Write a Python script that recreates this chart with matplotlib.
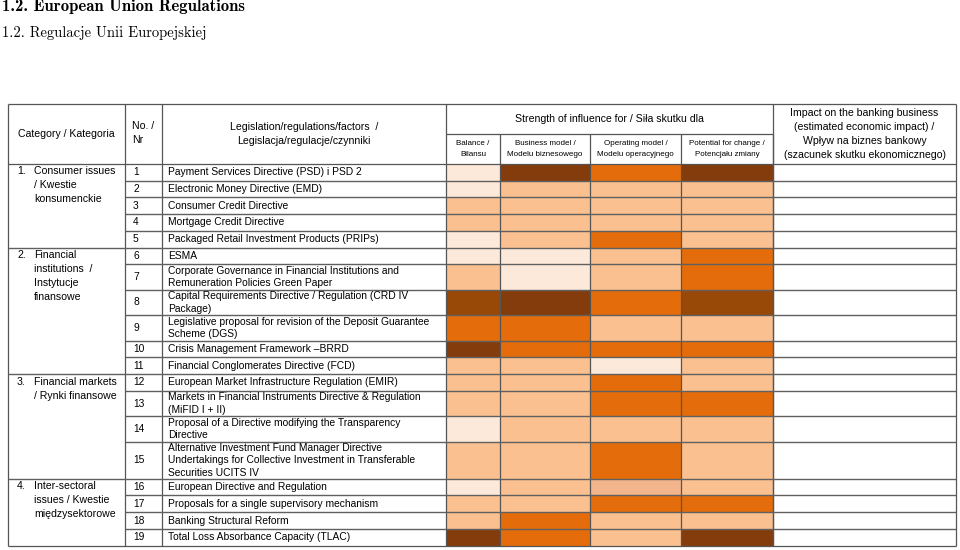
import numpy as np
import matplotlib.pyplot as plt
from matplotlib.colors import ListedColormap, BoundaryNorm

# --- data -------------------------------------------------------------
categories = [
    ("1.", "Consumer issues\n/ Kwestie\nkonsumenckie"),
    ("2.", "Financial\ninstitutions  /\nInstytucje\nfinansowe"),
    ("3.", "Financial markets\n/ Rynki finansowe"),
    ("4.", "Inter-sectoral\nissues / Kwestie\nmiędzysektorowe"),
]
category_rows = [5, 6, 4, 4]

numbers = [str(i) for i in range(1, 20)]
laws = [
    "Payment Services Directive (PSD) i PSD 2",
    "Electronic Money Directive (EMD)",
    "Consumer Credit Directive",
    "Mortgage Credit Directive",
    "Packaged Retail Investment Products (PRIPs)",
    "ESMA",
    "Corporate Governance in Financial Institutions and\nRemuneration Policies Green Paper",
    "Capital Requirements Directive / Regulation (CRD IV\nPackage)",
    "Legislative proposal for revision of the Deposit Guarantee\nScheme (DGS)",
    "Crisis Management Framework \u2013BRRD",
    "Financial Conglomerates Directive (FCD)",
    "European Market Infrastructure Regulation (EMIR)",
    "Markets in Financial Instruments Directive & Regulation\n(MiFID I + II)",
    "Proposal of a Directive modifying the Transparency\nDirective",
    "Alternative Investment Fund Manager Directive\nUndertakings for Collective Investment in Transferable\nSecurities UCITS IV",
    "European Directive and Regulation",
    "Proposals for a single supervisory mechanism",
    "Banking Structural Reform",
    "Total Loss Absorbance Capacity (TLAC)",
]

strength_cols = ["Balance /\nBilansu", "Business model /\nModelu biznesowego",
                 "Operating model /\nModelu operacyjnego",
                 "Potential for change /\nPotencjału zmiany"]

# strength level per row: balance, business model, operating model, potential
balance   = [1, 1, 2, 2, 1, 1, 2, 5, 4, 6, 2, 2, 2, 1, 2, 1, 2, 2, 6]
business  = [6, 2, 2, 2, 2, 1, 1, 6, 4, 4, 2, 2, 2, 2, 2, 2, 2, 4, 4]
operating = [4, 2, 2, 2, 4, 2, 2, 4, 2, 4, 1, 4, 4, 2, 4, 3, 4, 2, 2]
potential = [6, 2, 2, 2, 2, 4, 4, 5, 2, 4, 2, 2, 4, 2, 2, 2, 4, 2, 6]

level_colors = ["#FDE9D9", "#FAC090", "#F2B48A", "#E46C0A", "#984807", "#843C0C"]

# --- layout -----------------------------------------------------------
plt.rcParams['font.family'] = ['Liberation Sans', 'DejaVu Sans']
fig = plt.figure(figsize=(9.6, 5.5), dpi=100)
ax = fig.add_axes([0, 0, 1, 1])
ax.set_xlim(0, 960)
ax.set_ylim(550, 0)
ax.axis('off')

x_left, x_no, x_law, x_bal = 8, 125, 162, 446
x_edges = [446, 500, 590, 681, 773]
x_right = 956
y_top, y_sub, y_head = 104, 134, 164

row_h = {1: 16.7, 2: 25.5, 3: 37.0}
n_lines = [t.count("\n") + 1 for t in laws]
y_edges = np.concatenate([[y_head], y_head + np.cumsum([row_h[n] for n in n_lines])])

levels = np.array([balance, business, operating, potential]).T
cmap = ListedColormap(level_colors)
norm = BoundaryNorm(np.arange(0.5, len(level_colors) + 1), cmap.N)
ax.pcolormesh(x_edges, y_edges, levels, cmap=cmap, norm=norm,
              edgecolors="#3a3a3a", linewidth=0.7)

line_c = "#555555"
lw = 0.9
y_bot = y_edges[-1]
# outer frame and column lines
ax.vlines([x_left, x_no, x_law, x_bal, x_right], y_top, y_bot, color=line_c, lw=lw)
ax.vlines(x_edges[1:], y_sub, y_bot, color=line_c, lw=lw)
ax.vlines(x_edges[-1], y_top, y_bot, color=line_c, lw=lw)
ax.hlines([y_top, y_bot], x_left, x_right, color=line_c, lw=lw)
ax.hlines(y_head, x_left, x_right, color=line_c, lw=lw)
ax.hlines(y_sub, x_bal, x_edges[-1], color=line_c, lw=lw)
# row lines (full width at category boundaries)
cat_bounds = np.cumsum(category_rows)
for i in range(1, len(laws)):
    start = x_left if i in cat_bounds else x_no
    ax.hlines(y_edges[i], start, x_right, color="#606060", lw=1.0)

# --- header text ------------------------------------------------------
fs = 7.4
ax.text((x_left + x_no) / 2, 134, "Category / Kategoria", ha='center', va='center', fontsize=7.6)
ax.text(132, 133, "No. /\nNr", ha='left', va='center', fontsize=7.6, linespacing=1.6)
ax.text((x_law + x_bal) / 2, 134, "Legislation/regulations/factors  /\nLegislacja/regulacje/czynniki",
        ha='center', va='center', fontsize=7.6, linespacing=1.6)
ax.text((x_bal + x_edges[-1]) / 2, 119, "Strength of influence for / Siła skutku dla",
        ha='center', va='center', fontsize=7.6)
for i, lab in enumerate(strength_cols):
    ax.text((x_edges[i] + x_edges[i + 1]) / 2, 149, lab, ha='center', va='center',
            fontsize=5.8, linespacing=1.65)
ax.text((x_edges[-1] + x_right) / 2, 133.5,
        "Impact on the banking business\n(estimated economic impact) /\nWpływ na biznes bankowy\n(szacunek skutku ekonomicznego)",
        ha='center', va='center', fontsize=7.6, linespacing=1.5)

# --- body text --------------------------------------------------------
for i, (num, law) in enumerate(zip(numbers, laws)):
    yc = (y_edges[i] + y_edges[i + 1]) / 2
    ax.text(133, yc, num, ha='left', va='center', fontsize=fs)
    ax.text(168, yc, law, ha='left', va='center', fontsize=fs, linespacing=1.32)

start = 0
for (idx, name), n in zip(categories, category_rows):
    y0 = y_edges[start] + 2.5
    ax.text(17, y0, idx, ha='left', va='top', fontsize=7.6)
    ax.text(34, y0, name, ha='left', va='top', fontsize=7.6, linespacing=1.5)
    start += n

# --- titles -----------------------------------------------------------
fig.text(2 / 960, 1 - 7 / 550, "1.2. European Union Regulations", family='cmb10',
         fontsize=12, ha='left', va='center')
fig.text(2 / 960, 1 - 33 / 550, "1.2. Regulacje Unii Europejskiej", family='cmr10',
         fontsize=10.5, ha='left', va='center')

fig.savefig("out.png", dpi=100)
